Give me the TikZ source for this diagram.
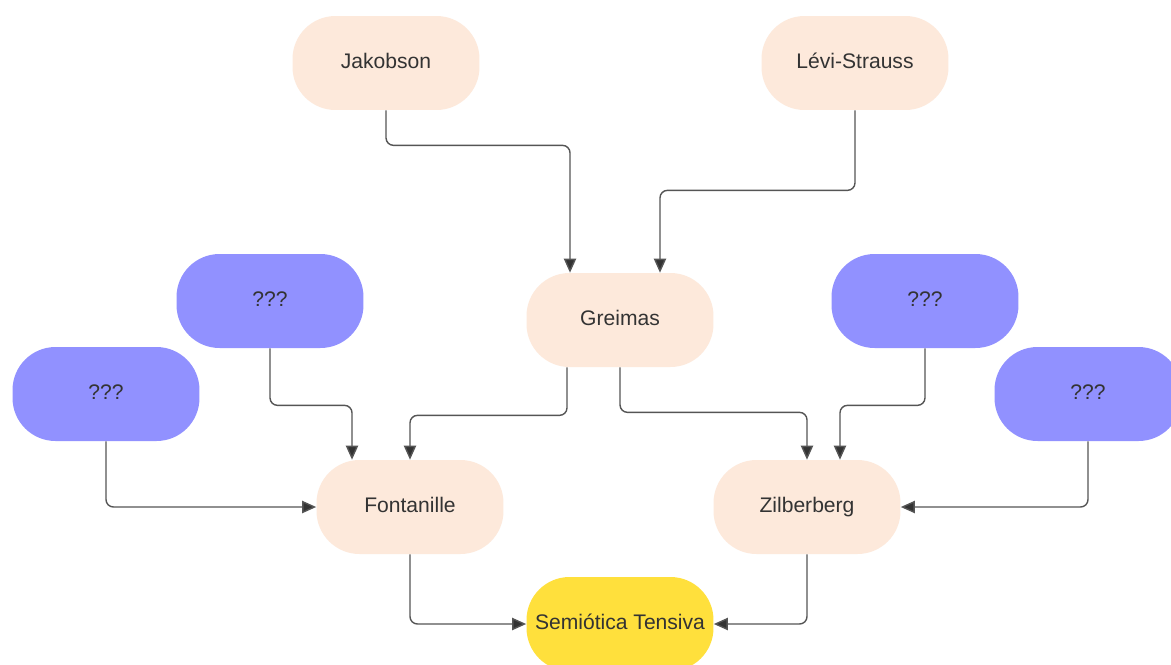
\documentclass[tikz,border=0pt]{standalone}
\usepackage{fontspec}
\setmainfont{Liberation Sans}
\usetikzlibrary{arrows.meta}
\definecolor{peach}{RGB}{253,233,219}
\definecolor{lav}{RGB}{145,145,255}
\definecolor{yel}{RGB}{255,224,60}
\definecolor{txt}{RGB}{51,51,51}
\definecolor{ln}{RGB}{85,85,85}
\tikzset{
  pill/.style={rounded corners=0.86cm, minimum width=3.74cm, minimum height=1.88cm, inner sep=0pt, text height=8.6pt, text depth=2.6pt, text=txt, font=\fontsize{12}{14}\selectfont},
  pname/.style={pill, fill=peach},
  qname/.style={pill, fill=lav},
  sname/.style={pill, fill=yel},
  conn/.style={draw=ln, line width=0.8pt, rounded corners=0.15cm, -{Triangle[length=8pt,width=7pt,fill=txt]}}
}
\begin{document}
\begin{tikzpicture}[x=0.02cm,y=-0.02cm]
\useasboundingbox (0,0) rectangle (1171,664);
\clip (0,0) rectangle (1171,664);
\fill[white] (0,0) rectangle (1171,664);
\node[pname] (jak) at (386,63) {Jakobson};
\node[pname] (lev) at (855,63) {Lévi-Strauss};
\node[pname] (gre) at (620,320) {Greimas};
\node[qname] (q1) at (270,301) {???};
\node[qname] (q2) at (106,394) {???};
\node[qname] (q3) at (925,301) {???};
\node[qname] (q4) at (1088,394) {???};
\node[pname] (fon) at (410,507) {Fontanille};
\node[pname] (zil) at (807,507) {Zilberberg};
\node[sname] (sem) at (620,624) {Semiótica Tensiva};
\draw[conn] (jak.south) -- ++(0,35) -| ([xshift=-1cm]gre.north);
\draw[conn] (lev.south) -- ++(0,80) -| ([xshift=0.8cm]gre.north);
\draw[conn] ([xshift=-1.06cm]gre.south) -- ++(0,48) -| (fon.north);
\draw[conn] (gre.south) -- ++(0,45) -| (zil.north);
\draw[conn] (q1.south) -- ++(0,57) -| ([xshift=-1.16cm]fon.north);
\draw[conn] (q2.south) |- (fon.west);
\draw[conn] (q3.south) -- ++(0,57) -| ([xshift=0.66cm]zil.north);
\draw[conn] (q4.south) |- (zil.east);
\draw[conn] (fon.south) |- (sem.west);
\draw[conn] (zil.south) |- (sem.east);
\end{tikzpicture}
\end{document}
